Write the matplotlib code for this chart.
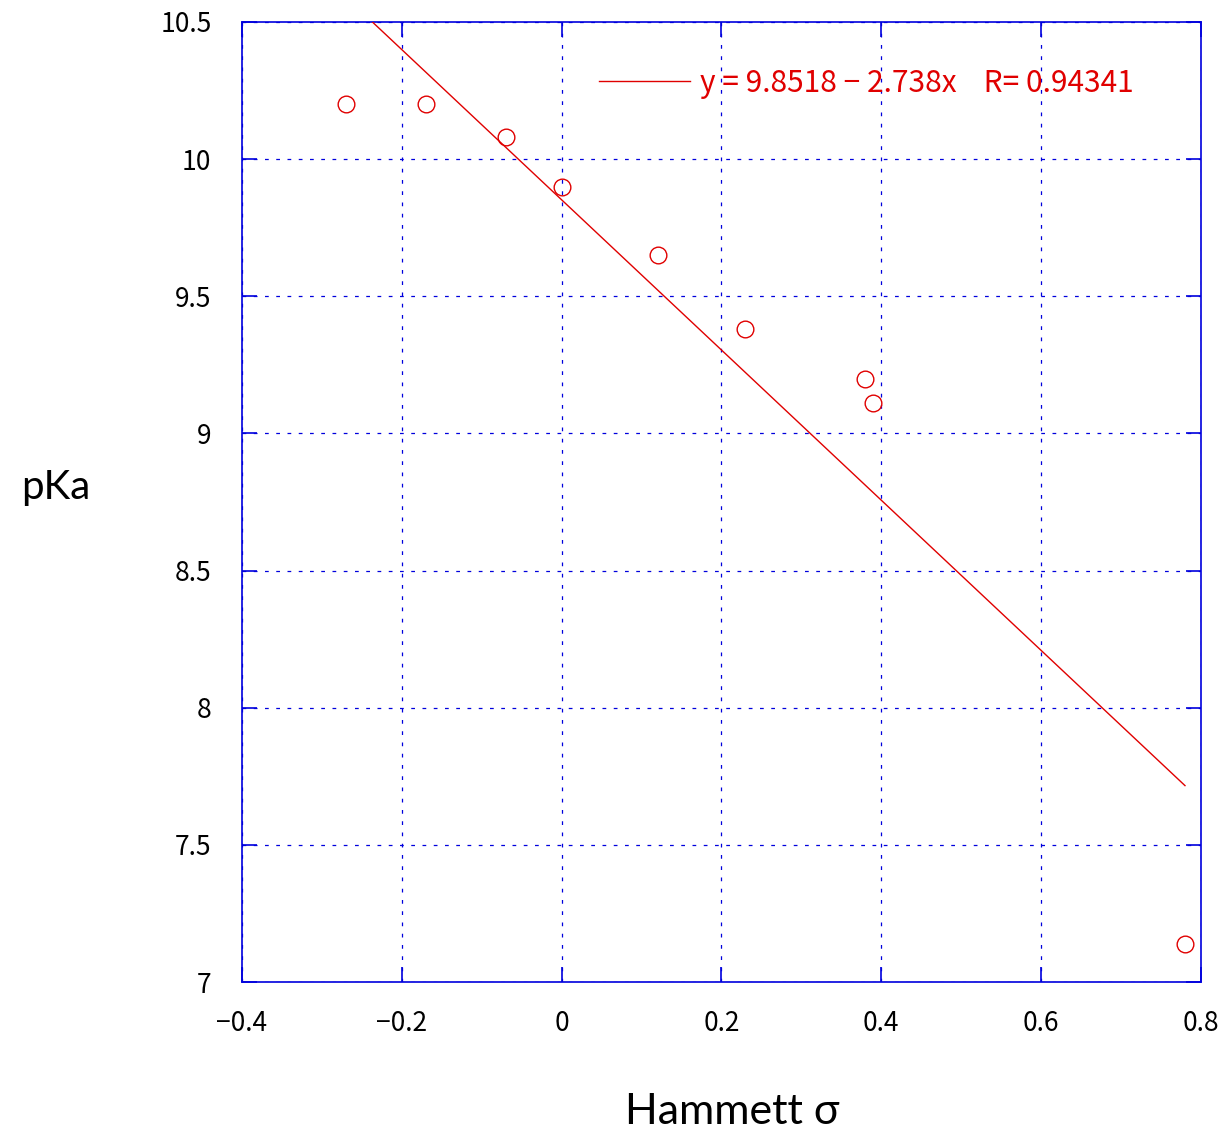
import numpy as np
import matplotlib.pyplot as plt

# -------------------------------
# Data
# -------------------------------
sigma = [-0.27, -0.17, -0.07, 0.0, 0.12, 0.23, 0.38, 0.39, 0.78]
pka = [10.20, 10.20, 10.08, 9.90, 9.65, 9.38, 9.20, 9.11, 7.14]
fit_a = 9.8518
fit_b = -2.738
fit_r = 0.94341

x_ticks = [-0.4, -0.2, 0, 0.2, 0.4, 0.6, 0.8]
x_labels = ["\u22120.4", "\u22120.2", "0", "0.2", "0.4", "0.6", "0.8"]
y_ticks = [7, 7.5, 8, 8.5, 9, 9.5, 10, 10.5]
y_labels = ["7", "7.5", "8", "8.5", "9", "9.5", "10", "10.5"]

tick_font = ["Noto Sans CJK JP", "DejaVu Sans"]
label_font = ["Lato", "DejaVu Sans"]
blue = "#0000dd"
red = "#e00000"

fig = plt.figure(figsize=(12.3, 11.34), dpi=100)
ax = fig.add_axes([0.1967, 0.134, 0.7797, 0.8466])

# fit line
xf = np.array([min(sigma), max(sigma)])
yf = fit_a + fit_b * xf
ax.plot(xf, yf, color=red, linewidth=1.0, zorder=3)

# points
ax.plot(sigma, pka, linestyle="none", marker="o", markersize=12,
        markerfacecolor="none", markeredgecolor=red, markeredgewidth=1.0, zorder=4)

ax.set_xlim(-0.4, 0.8)
ax.set_ylim(7, 10.5)
ax.set_xticks(x_ticks)
ax.set_xticklabels(x_labels, fontsize=19, family=tick_font)
ax.set_yticks(y_ticks)
ax.set_yticklabels(y_labels, fontsize=19, family=tick_font)
ax.tick_params(axis="both", direction="in", length=11, width=1.2, color=blue,
               top=True, right=True)
ax.tick_params(axis="x", pad=20)
ax.tick_params(axis="y", pad=22)

ax.grid(True, color=blue, linestyle=(0, (3, 6)), linewidth=0.9)
for s in ax.spines.values():
    s.set_color(blue)
    s.set_linewidth(1.2)

# legend-like label
ax.plot([0.047, 0.161], [10.285, 10.285], color=red, linewidth=1.0)
ax.text(0.173, 10.275, f"y = {fit_a} \u2212 {abs(fit_b)}x    R= {fit_r}",
        color=red, fontsize=21.5, family=tick_font, va="center", ha="left")

fig.text(0.595, 0.009, "Hammett \u03c3", fontsize=31, family=label_font,
         ha="center", va="baseline")
fig.text(0.045, 0.57, "pKa", fontsize=29, family=label_font,
         ha="center", va="center")

fig.savefig("out.png", dpi=100)
